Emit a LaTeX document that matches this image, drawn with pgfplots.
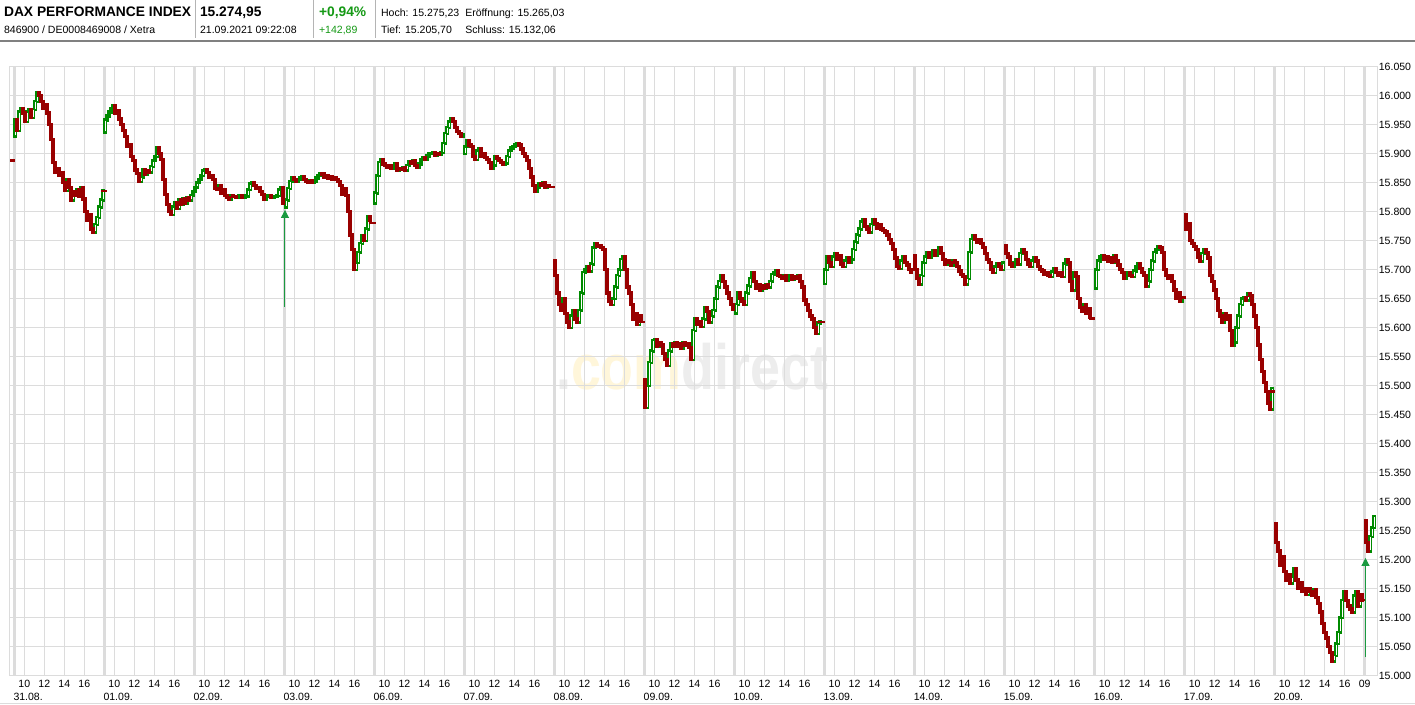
\documentclass[border=0pt]{standalone}
\usepackage{pgfplots}
\pgfplotsset{compat=1.18}
\usepackage{pgfplotstable}
\usepackage{graphicx}
\usepackage{fontspec}
\setmainfont{Liberation Sans}
\usetikzlibrary{arrows.meta}

\definecolor{cred}{HTML}{990000}
\definecolor{cgreen}{HTML}{008A00}
\definecolor{gridc}{HTML}{DCDCDC}
\definecolor{agreen}{HTML}{1A9A40}
\definecolor{hgreen}{HTML}{159915}
\definecolor{wmy}{HTML}{FFF6DA}
\definecolor{wmg}{HTML}{EDEDED}
\definecolor{hsep}{HTML}{B4B4B4}

\newcommand{\tickfont}{\fontsize{7.9pt}{9pt}\selectfont}
\newcommand{\candleX}{(\thisrow{t}-14.3)/10.003}

% t = position on the time axis (day separator of 31.08. at 14.3, 90.03 per trading day), c = close, s = opening value of the day (0 = previous close)
\pgfplotstableread{
t c s
15 15958 15930
17 15940 0
19 15972 0
21 15978 0
23 15970 0
25 15955 0
27 15972 0
29 15976 0
31 15962 0
33 15976 0
35 15990 0
37 16005 0
39 16000 0
41 15990 0
43 15978 0
45 15985 0
47 15970 0
49 15950 0
51 15925 0
53 15885 0
55 15868 0
57 15875 0
59 15862 0
61 15868 0
63 15850 0
65 15836 0
67 15855 0
69 15842 0
71 15820 0
73 15835 0
75 15828 0
77 15838 0
79 15826 0
81 15842 0
83 15822 0
85 15800 0
87 15785 0
89 15795 0
91 15770 0
93 15765 0
95 15778 0
97 15790 0
99 15808 0
101 15820 0
103 15836 0
105 15958 15937
107 15965 0
109 15972 0
111 15978 0
113 15982 0
115 15970 0
117 15975 0
119 15960 0
121 15950 0
123 15940 0
125 15930 0
127 15912 0
129 15915 0
131 15895 0
133 15888 0
135 15872 0
137 15866 0
139 15852 0
141 15860 0
143 15872 0
145 15865 0
147 15870 0
149 15868 0
151 15878 0
153 15888 0
155 15895 0
157 15910 0
159 15900 0
161 15890 0
163 15855 0
165 15830 0
167 15812 0
169 15800 0
171 15795 0
173 15808 0
175 15815 0
177 15805 0
179 15820 0
181 15812 0
183 15822 0
185 15815 0
187 15825 0
189 15820 0
191 15828 0
193 15835 0
195 15842 15835
197 15850 0
199 15855 0
201 15862 0
203 15870 0
205 15873 0
207 15868 0
209 15860 0
211 15862 0
213 15855 0
215 15840 0
217 15838 0
219 15845 0
221 15832 0
223 15838 0
225 15828 0
227 15825 0
229 15822 0
231 15828 0
233 15826 0
236 15824 0
239 15828 0
242 15825 0
245 15827 0
248 15838 0
250 15848 0
252 15850 0
254 15845 0
256 15840 0
258 15842 0
260 15835 0
262 15830 0
264 15822 0
266 15826 0
268 15828 0
271 15825 0
274 15826 0
277 15828 0
279 15838 0
281 15842 0
283 15815 0
286 15820 15808
288 15840 0
290 15852 0
292 15858 0
294 15855 0
296 15852 0
298 15856 0
300 15858 0
302 15860 0
304 15855 0
306 15852 0
308 15850 0
310 15854 0
312 15850 0
314 15852 0
316 15858 0
318 15862 0
320 15866 0
322 15865 0
324 15860 0
326 15862 0
328 15858 0
330 15860 0
332 15855 0
334 15858 0
336 15855 0
338 15852 0
340 15845 0
342 15830 0
344 15840 0
346 15828 0
348 15800 0
350 15760 0
352 15735 0
354 15700 0
356 15712 0
358 15730 0
360 15745 0
362 15758 0
364 15750 0
366 15770 0
368 15792 0
370 15785 0
375 15832 15815
377 15862 0
379 15885 0
381 15890 0
383 15882 0
385 15880 0
387 15876 0
389 15880 0
391 15874 0
393 15878 0
395 15882 0
397 15872 0
399 15875 0
401 15873 0
403 15876 0
405 15872 0
407 15880 0
409 15886 0
411 15884 0
413 15888 0
415 15880 0
417 15877 0
419 15882 0
421 15890 0
423 15893 0
425 15890 0
427 15896 0
429 15900 0
431 15900 0
433 15902 0
435 15898 0
437 15900 0
439 15899 0
441 15902 0
443 15918 0
445 15935 0
447 15945 0
449 15955 0
451 15960 0
453 15955 0
455 15945 0
457 15938 0
459 15935 0
461 15930 0
463 15932 0
465 15912 15900
467 15922 0
469 15915 0
471 15912 0
473 15895 0
475 15890 0
477 15905 0
479 15908 0
481 15896 0
483 15900 0
485 15893 0
487 15890 0
489 15885 0
491 15875 0
493 15880 0
495 15895 0
497 15892 0
499 15888 0
501 15885 0
503 15882 0
505 15884 0
507 15895 0
509 15905 0
511 15910 0
513 15912 0
515 15915 0
517 15918 0
519 15915 0
521 15908 0
523 15900 0
525 15895 0
527 15888 0
529 15875 0
531 15860 0
533 15845 0
535 15835 0
537 15842 0
539 15848 0
541 15845 0
543 15850 0
545 15842 0
547 15845 0
549 15843 0
555 15690 15715
557 15660 0
559 15640 0
561 15630 0
563 15650 0
565 15625 0
567 15610 0
569 15600 0
571 15620 0
573 15630 0
575 15615 0
577 15610 0
579 15630 0
581 15660 0
583 15695 0
585 15700 0
587 15705 0
589 15698 0
591 15710 0
593 15738 0
595 15745 0
597 15740 0
599 15742 0
601 15738 0
603 15735 0
605 15700 0
607 15660 0
609 15645 0
611 15640 0
613 15650 0
615 15670 0
617 15690 0
619 15700 0
621 15718 0
623 15722 0
625 15700 0
627 15670 0
629 15660 0
631 15640 0
633 15615 0
635 15625 0
637 15605 0
639 15620 0
641 15612 0
645 15462 15510
647 15500 0
649 15540 0
651 15560 0
653 15578 0
655 15580 0
657 15568 0
659 15575 0
661 15570 0
663 15555 0
665 15545 0
667 15535 0
669 15560 0
671 15572 0
673 15568 0
675 15575 0
677 15568 0
679 15572 0
681 15565 0
683 15575 0
685 15570 0
687 15572 0
689 15566 0
691 15545 0
693 15595 0
695 15615 0
697 15605 0
699 15610 0
701 15602 0
703 15615 0
705 15635 0
707 15628 0
709 15610 0
711 15620 0
713 15630 0
715 15650 0
717 15670 0
719 15680 0
721 15690 0
723 15680 0
725 15670 0
727 15660 0
729 15650 0
731 15640 0
733 15632 0
736 15640 15625
738 15660 0
740 15650 0
742 15645 0
744 15640 0
746 15660 0
748 15672 0
750 15685 0
752 15695 0
754 15680 0
756 15668 0
758 15675 0
760 15665 0
762 15672 0
764 15668 0
766 15675 0
768 15670 0
770 15680 0
772 15692 0
774 15695 0
776 15698 0
778 15690 0
780 15688 0
782 15685 0
784 15690 0
786 15682 0
788 15686 0
790 15690 0
792 15684 0
794 15688 0
796 15685 0
798 15690 0
800 15680 0
802 15670 0
804 15648 0
806 15640 0
808 15630 0
810 15620 0
812 15615 0
814 15600 0
816 15590 0
818 15608 0
820 15610 0
825 15700 15676
827 15722 0
829 15712 0
831 15705 0
833 15722 0
835 15728 0
837 15718 0
839 15725 0
841 15710 0
843 15705 0
845 15715 0
847 15720 0
849 15712 0
851 15718 0
853 15735 0
855 15748 0
857 15760 0
859 15770 0
861 15782 0
863 15786 0
865 15775 0
867 15770 0
869 15765 0
871 15778 0
873 15786 0
875 15780 0
877 15772 0
879 15778 0
881 15770 0
883 15768 0
885 15765 0
887 15760 0
889 15752 0
891 15745 0
893 15735 0
895 15720 0
897 15705 0
899 15702 0
901 15715 0
903 15722 0
905 15712 0
907 15708 0
909 15700 0
911 15695 0
915 15700 15725
917 15685 0
919 15675 0
921 15690 0
923 15712 0
925 15722 0
927 15730 0
929 15722 0
931 15728 0
933 15732 0
935 15725 0
937 15730 0
939 15738 0
941 15728 0
943 15718 0
945 15710 0
947 15715 0
949 15712 0
951 15708 0
953 15715 0
955 15712 0
957 15705 0
959 15698 0
961 15692 0
963 15688 0
965 15675 0
967 15685 0
969 15730 0
971 15752 0
973 15758 0
975 15752 0
977 15748 0
979 15752 0
981 15745 0
983 15738 0
985 15728 0
987 15718 0
989 15712 0
991 15700 0
993 15695 0
995 15705 0
997 15710 0
999 15705 0
1001 15700 0
1003 15712 0
1006 15728 15742
1008 15722 0
1010 15710 0
1012 15705 0
1014 15712 0
1016 15718 0
1018 15710 0
1020 15728 0
1022 15735 0
1024 15730 0
1026 15718 0
1028 15710 0
1030 15705 0
1032 15715 0
1034 15720 0
1036 15715 0
1038 15705 0
1040 15700 0
1042 15698 0
1044 15692 0
1046 15695 0
1048 15690 0
1050 15688 0
1052 15696 0
1054 15702 0
1056 15695 0
1058 15690 0
1060 15694 0
1062 15688 0
1064 15710 0
1066 15718 0
1068 15712 0
1070 15680 0
1072 15665 0
1074 15695 0
1076 15688 0
1078 15650 0
1080 15635 0
1082 15628 0
1084 15640 0
1086 15625 0
1088 15632 0
1090 15618 0
1096 15700 15668
1098 15715 0
1100 15722 0
1102 15725 0
1104 15718 0
1106 15722 0
1108 15715 0
1110 15720 0
1112 15712 0
1114 15725 0
1116 15715 0
1118 15708 0
1120 15700 0
1122 15695 0
1124 15685 0
1126 15690 0
1128 15695 0
1130 15690 0
1132 15688 0
1134 15698 0
1136 15705 0
1138 15710 0
1140 15702 0
1142 15695 0
1144 15690 0
1146 15672 0
1148 15680 0
1150 15700 0
1152 15715 0
1154 15730 0
1156 15735 0
1158 15740 0
1160 15738 0
1162 15730 0
1164 15700 0
1166 15690 0
1168 15685 0
1170 15690 0
1172 15680 0
1174 15665 0
1176 15650 0
1178 15660 0
1180 15645 0
1182 15652 0
1186 15770 15795
1188 15780 0
1190 15750 0
1192 15745 0
1194 15740 0
1196 15735 0
1198 15722 0
1200 15715 0
1202 15728 0
1204 15735 0
1206 15730 0
1208 15720 0
1210 15690 0
1212 15680 0
1214 15665 0
1216 15650 0
1218 15630 0
1220 15620 0
1222 15610 0
1224 15625 0
1226 15615 0
1228 15620 0
1230 15595 0
1232 15570 0
1234 15575 0
1236 15600 0
1238 15620 0
1240 15640 0
1242 15650 0
1244 15652 0
1246 15648 0
1248 15658 0
1250 15655 0
1252 15640 0
1254 15620 0
1256 15600 0
1258 15570 0
1260 15545 0
1262 15525 0
1264 15505 0
1266 15490 0
1268 15470 0
1270 15460 0
1272 15495 0
1276 15230 15262
1278 15215 0
1280 15190 0
1282 15205 0
1284 15180 0
1286 15165 0
1288 15175 0
1290 15160 0
1292 15170 0
1294 15185 0
1296 15165 0
1298 15150 0
1300 15160 0
1302 15145 0
1304 15150 0
1306 15140 0
1308 15150 0
1310 15145 0
1312 15138 0
1314 15148 0
1316 15135 0
1318 15125 0
1320 15110 0
1322 15090 0
1324 15075 0
1326 15065 0
1328 15050 0
1330 15040 0
1332 15025 0
1334 15035 0
1336 15055 0
1338 15075 0
1340 15100 0
1342 15130 0
1344 15145 0
1346 15130 0
1348 15120 0
1350 15115 0
1352 15110 0
1354 15138 0
1356 15145 0
1358 15120 0
1360 15140 0
1362 15130 0
1366 15230 15268
1368 15215 0
1370 15240 0
1372 15255 0
1374 15275 0
}\dax

\pgfplotstablecreatecol[
  create col/assign first/.code={%
    \getthisrow{s}\sv
    \pgfkeyslet{/pgfplots/table/create col/next content}\sv},
  create col/assign/.code={%
    \getthisrow{s}\sv
    \ifnum\sv>0 \else \getprevrow{c}\sv \fi
    \pgfkeyslet{/pgfplots/table/create col/next content}\sv}
]{o}\dax

\begin{document}
\begin{tikzpicture}[x=0.75pt,y=0.75pt]
\path[use as bounding box] (0,0) rectangle (1415,705);
% header
\fill[white] (0,0) rectangle (1415,705);
\node[anchor=base west, inner sep=0pt, font=\fontsize{10.35pt}{12pt}\selectfont\bfseries] at (3.8,688.2) {DAX PERFORMANCE INDEX};
\node[anchor=base west, inner sep=0pt, font=\fontsize{10.35pt}{12pt}\selectfont\bfseries] at (199.8,688.2) {15.274,95};
\node[anchor=base west, inner sep=0pt, font=\fontsize{10.35pt}{12pt}\selectfont\bfseries, text=hgreen] at (318.8,688.2) {+0,94\%};
\node[anchor=base west, inner sep=0pt, font=\fontsize{7.9pt}{9pt}\selectfont] at (3.8,671.3) {846900 / DE0008469008 / Xetra};
\node[anchor=base west, inner sep=0pt, font=\fontsize{7.9pt}{9pt}\selectfont] at (199.8,671.3) {21.09.2021 09:22:08};
\node[anchor=base west, inner sep=0pt, font=\fontsize{7.9pt}{9pt}\selectfont, text=hgreen] at (318.8,671.3) {+142,89};
\node[anchor=base west, inner sep=0pt, font=\fontsize{7.9pt}{9pt}\selectfont] at (380.8,688.2) {Hoch: 15.275,23};
\node[anchor=base west, inner sep=0pt, font=\fontsize{7.9pt}{9pt}\selectfont] at (465,688.2) {Eröffnung: 15.265,03};
\node[anchor=base west, inner sep=0pt, font=\fontsize{7.9pt}{9pt}\selectfont] at (380.8,671.3) {Tief: 15.205,70};
\node[anchor=base west, inner sep=0pt, font=\fontsize{7.9pt}{9pt}\selectfont] at (465,671.3) {Schluss: 15.132,06};
\draw[hsep, line width=0.75pt] (195.2,667) -- (195.2,705) (313.8,667) -- (313.8,705) (375,667) -- (375,705);
\draw[black!50, line width=1.5pt] (0,664) -- (1415,664);
\draw[gridc, line width=0.75pt] (0,1.5) -- (1415,1.5);
% watermark
\node[anchor=base, inner sep=0pt] at (692,315) {\scalebox{0.84}[1]{\fontsize{48pt}{48pt}\selectfont\bfseries\textcolor{wmg}{.}\textcolor{wmy}{com}\textcolor{wmg}{direct}}};

\begin{axis}[
  at={(7.5pt,21.975pt)}, anchor=south west,
  scale only axis, width=1025.25pt, height=456.75pt,
  xmin=-0.43, xmax=136.23, ymin=15000, ymax=16050,
  axis line style={draw=gridc, line width=0.75pt},
  major tick length=0pt,
  xmajorgrids, ymajorgrids,
  grid style={draw=gridc, line width=0.75pt},
  ytick={15000,15050,...,16050},
  scaled y ticks=false,
  yticklabel pos=right,
  yticklabel style={anchor=west, inner sep=0pt, xshift=1.2pt, font=\tickfont,
    /pgf/number format/fixed, /pgf/number format/precision=0,
    /pgf/number format/1000 sep={.}, /pgf/number format/assume math mode=true},
  xtick={1,3,5,7,10,12,14,16,19,21,23,25,28,30,32,34,37,39,41,43,46,48,50,52,55,57,59,61,64,66,68,70,73,75,77,79,82,84,86,88,91,93,95,97,100,102,104,106,109,111,113,115,118,120,122,124,127,129,131,133,135},
  xticklabels={10,12,14,16,10,12,14,16,10,12,14,16,10,12,14,16,10,12,14,16,10,12,14,16,10,12,14,16,10,12,14,16,10,12,14,16,10,12,14,16,10,12,14,16,10,12,14,16,10,12,14,16,10,12,14,16,10,12,14,16,09},
  xticklabel style={anchor=north, inner sep=0pt, yshift=-3.2pt, font=\tickfont},
  extra x ticks={0,9,...,135},
  extra x tick labels={31.08.,01.09.,02.09.,03.09.,06.09.,07.09.,08.09.,09.09.,10.09.,13.09.,14.09.,15.09.,16.09.,17.09.,20.09.,{}},
  extra x tick style={grid style={draw=gridc, line width=2.5pt},
    xticklabel style={anchor=north west, yshift=-10pt, xshift=-0.8pt}},
  unbounded coords=jump,
]
% rising candles: green outline
\addplot[cgreen, mark=none, forget plot,
  restrict expr to domain={\thisrow{c}-\thisrow{o}}{0.5:5000},
  quiver={u=0, v=\thisrow{c}-\thisrow{o},
    every arrow/.append style={line width=2.5pt, draw=cgreen, line cap=rect}}]
  table[x expr=\candleX, y=o] {\dax};
% hollow interior
\addplot[white, mark=none, forget plot,
  restrict expr to domain={\thisrow{c}-\thisrow{o}}{8:5000},
  quiver={u=0, v=\thisrow{c}-\thisrow{o}-3,
    every arrow/.append style={line width=0.6pt, draw=white, line cap=butt}}]
  table[x expr=\candleX, y expr=\thisrow{o}+1.5] {\dax};
% falling candles: filled dark red
\addplot[cred, mark=none, forget plot,
  restrict expr to domain={\thisrow{o}-\thisrow{c}}{0.5:5000},
  quiver={u=0, v=\thisrow{c}-\thisrow{o},
    every arrow/.append style={line width=2.5pt, draw=cred, line cap=rect}}]
  table[x expr=\candleX, y=o] {\dax};
% closing dashes
\addplot[cred, line width=1.8pt, mark=none] table[x expr=\candleX, y=v] {
t v
10 15888
15 15888
nan nan
101 15836
107 15836
nan nan
369 15781
376 15781
nan nan
547 15843
555 15843
nan nan
639 15610
645 15610
nan nan
817 15610
825 15610
nan nan
1089 15616
1095 15616
nan nan
1181 15652
1186 15652
nan nan
1269 15490
1275 15490
nan nan
1359 15130
1365 15130
};
% gap arrows
\addplot[agreen, line width=0.75pt, -{Triangle[width=6pt,length=6pt]}] coordinates {(27.06,15636) (27.06,15803)};
\addplot[agreen, line width=0.75pt, -{Triangle[width=6pt,length=6pt]}] coordinates {(135.08,15032) (135.08,15203)};
\end{axis}
\end{tikzpicture}
\end{document}
